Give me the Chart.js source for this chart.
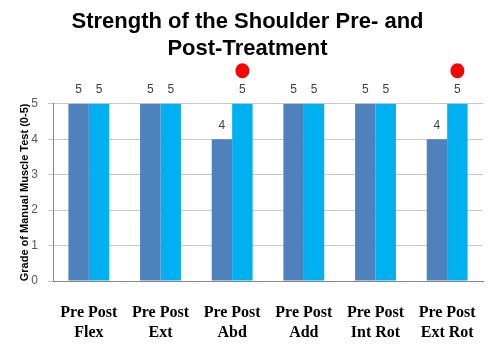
<!DOCTYPE html>
<html>
<head>
<meta charset="utf-8">
<script src="https://cdn.jsdelivr.net/npm/chart.js@4/dist/chart.umd.min.js"></script>
<style>
  body { margin: 0; background: #fff; }
  #wrap { width: 488px; height: 345px; }
</style>
</head>
<body>
<div id="wrap"><canvas id="chart" width="488" height="345"></canvas></div>
<script>
const motions = ["Flex", "Ext", "Abd", "Add", "Int Rot", "Ext Rot"];
const preValues = [5, 5, 4, 5, 5, 4];
const postValues = [5, 5, 5, 5, 5, 5];
const improved = [false, false, true, false, false, true]; // red dot markers
const yTicks = [0, 1, 2, 3, 4, 5];

const labels = motions.map((m) => ["Pre Post", m]);

// value labels above each bar + red markers over the improved post bars
const valueLabels = {
  id: "valueLabels",
  afterDatasetsDraw(chart) {
    const ctx = chart.ctx;
    ctx.save();
    ctx.font = "12px 'Liberation Sans', Arial, sans-serif";
    ctx.fillStyle = "#404040";
    ctx.textAlign = "center";
    ctx.textBaseline = "middle";
    chart.data.datasets.forEach((ds, d) => {
      chart.getDatasetMeta(d).data.forEach((bar, i) => {
        ctx.fillText(String(ds.data[i]), bar.x, bar.y - 14);
      });
    });

    const postMeta = chart.getDatasetMeta(1);
    ctx.fillStyle = "#FF0000";
    improved.forEach((flag, i) => {
      if (!flag) return;
      const bar = postMeta.data[i];
      ctx.beginPath();
      ctx.ellipse(bar.x, bar.y - 33, 7, 7.5, 0, 0, Math.PI * 2);
      ctx.fill();
    });
    ctx.restore();
  }
};

new Chart(document.getElementById("chart"), {
  type: "bar",
  data: {
    labels,
    datasets: [
      {
        label: "Pre",
        data: preValues,
        backgroundColor: "#4F81BD",
        categoryPercentage: 0.57,
        barPercentage: 1.0,
      },
      {
        label: "Post",
        data: postValues,
        backgroundColor: "#00B0F0",
        categoryPercentage: 0.57,
        barPercentage: 1.0,
      },
    ],
  },
  options: {
    responsive: false,
    animation: false,
    layout: { padding: { left: 12, right: 5, top: 0, bottom: 4 } },
    plugins: {
      legend: { display: false },
      tooltip: { enabled: false },
      title: {
        display: true,
        text: ["Strength of the Shoulder Pre- and", "Post-Treatment"],
        color: "#000",
        font: { family: "'Liberation Sans', Arial, sans-serif", size: 22, weight: "bold", lineHeight: 1.2 },
        padding: { top: 9, bottom: 42 },
      },
    },
    scales: {
      x: {
        grid: { display: false, drawTicks: false },
        border: { display: true, color: "#868686" },
        afterFit: (axis) => {
          axis.height = 60;
          axis.paddingLeft = 0;
          axis.paddingRight = 0;
        },
        ticks: {
          color: "#000",
          padding: 22,
          maxRotation: 0,
          autoSkip: false,
          font: { family: "'Liberation Serif', 'Times New Roman', serif", size: 16, weight: "bold", lineHeight: 1.25 },
        },
      },
      y: {
        min: 0,
        max: 5,
        afterBuildTicks: (axis) => { axis.ticks = yTicks.map((v) => ({ value: v })); },
        afterFit: (axis) => { axis.width = 41; },
        grid: { color: "#C8C8C8", tickLength: 5 },
        border: { display: true, color: "#868686" },
        ticks: {
          color: "#595959",
          padding: 10,
          font: { family: "'Liberation Sans', Arial, sans-serif", size: 12 },
        },
        title: {
          display: true,
          text: "Grade of Manual Muscle Test (0-5)",
          color: "#000",
          padding: { top: 6, bottom: 2 },
          font: { family: "'Liberation Sans', Arial, sans-serif", size: 11, weight: "bold" },
        },
      },
    },
  },
  plugins: [valueLabels],
});
</script>
</body>
</html>
